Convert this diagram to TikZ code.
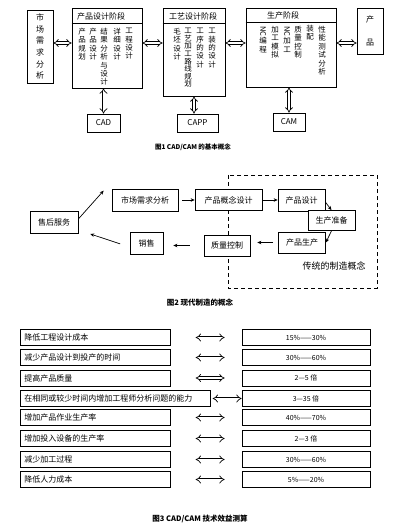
\documentclass[tikz,border=0pt]{standalone}
\usepackage{fontspec}
\setmainfont{Noto Sans CJK SC}
\usepackage{graphicx}
\usetikzlibrary{arrows.meta, positioning}

\tikzset{
  box/.style={draw, line width=0.7pt, inner sep=1pt},
  col/.style={anchor=north, align=center, inner sep=0pt, font=\fontsize{7.5}{8.4}\selectfont},
  dbl/.style={double, double distance=2pt, line width=0.7pt, {Implies}-{Implies}},
  arr/.style={line width=0.7pt, -{Stealth[length=4pt, width=3.5pt]}},
  lbox/.style={box, anchor=west, minimum height=16pt, text width=142pt, inner xsep=4pt, align=left},
  rbox/.style={box, minimum width=128pt, minimum height=16pt, font=\fontsize{7}{8}\selectfont},
}

\begin{document}
\begin{tikzpicture}[x=1pt, y=-1pt, font=\fontsize{8}{9}\selectfont]
\path[use as bounding box, fill=white] (0,0) rectangle (400,529);

% Fig 1
\coordinate (r1) at (0,43);
\node[box, minimum width=26pt, minimum height=73pt, align=center, font=\fontsize{8}{11.7}\selectfont] (scfx) at (40,46.5) {市\\场\\需\\求\\分\\析};

\node[box, minimum width=70pt, minimum height=80pt] (cpsj) at (107,48) {};
\draw[line width=0.7pt] (cpsj.north west) ++(0,16) -- ++(70,0);
\node at (101,16) {产品设计阶段};
\node[col] at (82,28) {产\\品\\规\\划};
\node[col] at (93,28) {产\\品\\设\\计};
\node[col] at (104,28) {结\\果\\分\\析\\与\\设\\计};
\node[col] at (117,28) {详\\细\\设\\计};
\node[col] at (129,28) {工\\程\\设\\计};

\node[box, minimum width=62pt, minimum height=88pt] (gysj) at (194,52) {};
\draw[line width=0.7pt] (gysj.north west) ++(0,16) -- ++(62,0);
\node at (193,16) {工艺设计阶段};
\node[col] at (177,28) {毛\\坯\\设\\计};
\node[col, font=\fontsize{7.5}{7.6}\selectfont] at (188,28) {工\\艺\\加\\工\\路\\线\\规\\划};
\node[col] at (200,28) {工\\序\\的\\设\\计};
\node[col] at (212,28) {工\\装\\的\\设\\计};

\node[box, minimum width=90pt, minimum height=79pt] (scjd) at (291,47.5) {};
\draw[line width=0.7pt] (scjd.north west) ++(0,15) -- ++(90,0);
\node at (283,15.5) {生产阶段};
\node[col] at (263,26) {\rotatebox{-90}{NC}\\编\\程};
\node[col] at (275,26) {加\\工\\模\\拟};
\node[col] at (287,26) {\rotatebox{-90}{NC}\\加\\工};
\node[col] at (298,26) {质\\量\\控\\制};
\node[col] at (310,25) {装\\配};
\node[col] at (322,26) {性\\能\\测\\试\\分\\析};

\node[box, minimum width=26pt, minimum height=46pt, align=center, font=\fontsize{8}{23}\selectfont] (cp) at (370,31) {产\\品};

\draw[dbl] (scfx.east |- r1) -- (cpsj.west |- r1);
\draw[dbl] (cpsj.east |- r1) -- (gysj.west |- r1);
\draw[dbl] (gysj.east |- r1) -- (scjd.west |- r1);
\draw[dbl] (scjd.east |- r1) -- (cp.west |- r1);

\node[box, minimum width=33pt, minimum height=18pt] (cad) at (103.5,123) {CAD};
\node[box, minimum width=41pt, minimum height=18pt] (capp) at (197.5,123) {CAPP};
\node[box, minimum width=32pt, minimum height=18pt] (cam) at (289,122) {CAM};
\draw[dbl] (cad.north) -- (cad.north |- cpsj.south);
\draw[dbl] (capp.north -| gysj.south) -- (gysj.south);
\draw[dbl] (cam.north) -- (cam.north |- scjd.south);

\node[font=\fontsize{6.5}{7}\selectfont\bfseries] (cap1) at (193,147) {图1 CAD/CAM 的基本概念};

% Fig 2
\draw[line width=0.8pt, dash pattern=on 4pt off 3pt] (228,175) rectangle (377,288);
\node[box, fill=white, minimum width=66pt, minimum height=22pt] (scxq) at (145,200) {市场需求分析};
\node[box, fill=white, minimum width=67pt, minimum height=21pt] (cpgn) at (228.5,200) {产品概念设计};
\node[box, fill=white, minimum width=47pt, minimum height=22pt] (cpsj2) at (301.5,200) {产品设计};
\node[box, fill=white, minimum width=47pt, minimum height=20pt] (sczb) at (331.5,220.5) {生产准备};
\node[box, fill=white, minimum width=47pt, minimum height=21pt] (cpsc) at (302,242.5) {产品生产};
\node[box, fill=white, minimum width=46pt, minimum height=21pt] (zlkz) at (227,245.5) {质量控制};
\node[box, fill=white, minimum width=33pt, minimum height=22pt] (xs) at (146.5,243) {销售};
\node[box, fill=white, minimum width=48pt, minimum height=22pt] (shfw) at (54,222) {售后服务};
\node[font=\fontsize{9}{10}\selectfont] (ctzz) at (334,266) {传统的制造概念};

\draw[arr, shorten <=4pt] (scxq) -- (cpgn);
\draw[arr] (cpgn) -- (cpsj2);
\draw[arr] ([yshift=-2pt]cpsj2.east) -- (sczb.north);
\draw[arr] (sczb.south) -- (cpsc.east);
\draw[arr, shorten <=5pt, shorten >=7pt] (cpsc.west) -- (cpsc.west -| zlkz.east);
\draw[arr, shorten <=14pt, shorten >=10pt] (zlkz.west) -- (zlkz.west -| xs.east);
\draw[arr, shorten <=10pt, shorten >=2pt] ([yshift=-4pt]xs.west) -- ([xshift=10pt]shfw.south east);
\draw[arr] ([yshift=3pt]shfw.east) -- ([xshift=-8pt, yshift=-2pt]scxq.north west);

\node[font=\fontsize{7.5}{8}\selectfont\bfseries] (cap2) at (200,303) {图2 现代制造的概念};

% Fig 3
\node[lbox] (l1) at (20,337.5) {降低工程设计成本};
\node[rbox] (v1) at (306,337.5) {15\%——30\%};
\draw[dbl, shorten <=25pt, shorten >=17pt] (l1) -- (v1);

\node[lbox] (l2) at (20,357.5) {减少产品设计到投产的时间};
\node[rbox] (v2) at (306,357.5) {30\%——60\%};
\draw[dbl, shorten <=25pt, shorten >=17pt] (l2) -- (v2);

\node[lbox] (l3) at (20,378) {提高产品质量};
\node[rbox] (v3) at (306,378) {2—5 倍};
\draw[dbl, shorten <=25pt, shorten >=17pt] (l3) -- (v3);

\node[lbox, text width=182pt] (l4) at (20,398.5) {在相同或较少时间内增加工程师分析问题的能力};
\node[rbox] (v4) at (306,398.5) {3—35 倍};
\draw[dbl, shorten <=2pt] (l4) -- (v4);

\node[lbox] (l5) at (20,417.5) {增加产品作业生产率};
\node[rbox] (v5) at (306,417.5) {40\%——70\%};
\draw[dbl, shorten <=25pt, shorten >=17pt] (l5) -- (v5);

\node[lbox] (l6) at (20,438.5) {增加投入设备的生产率};
\node[rbox] (v6) at (306,438.5) {2—3 倍};
\draw[dbl, shorten <=25pt, shorten >=17pt] (l6) -- (v6);

\node[lbox] (l7) at (20,459.5) {减少加工过程};
\node[rbox] (v7) at (306,459.5) {30\%——60\%};
\draw[dbl, shorten <=25pt, shorten >=17pt] (l7) -- (v7);

\node[lbox] (l8) at (20,479.5) {降低人力成本};
\node[rbox] (v8) at (306,479.5) {5\%——20\%};
\draw[dbl, shorten <=25pt, shorten >=17pt] (l8) -- (v8);

\node[font=\fontsize{7.5}{8}\selectfont\bfseries] (cap3) at (200,519) {图3 CAD/CAM 技术效益测算};
\end{tikzpicture}
\end{document}
